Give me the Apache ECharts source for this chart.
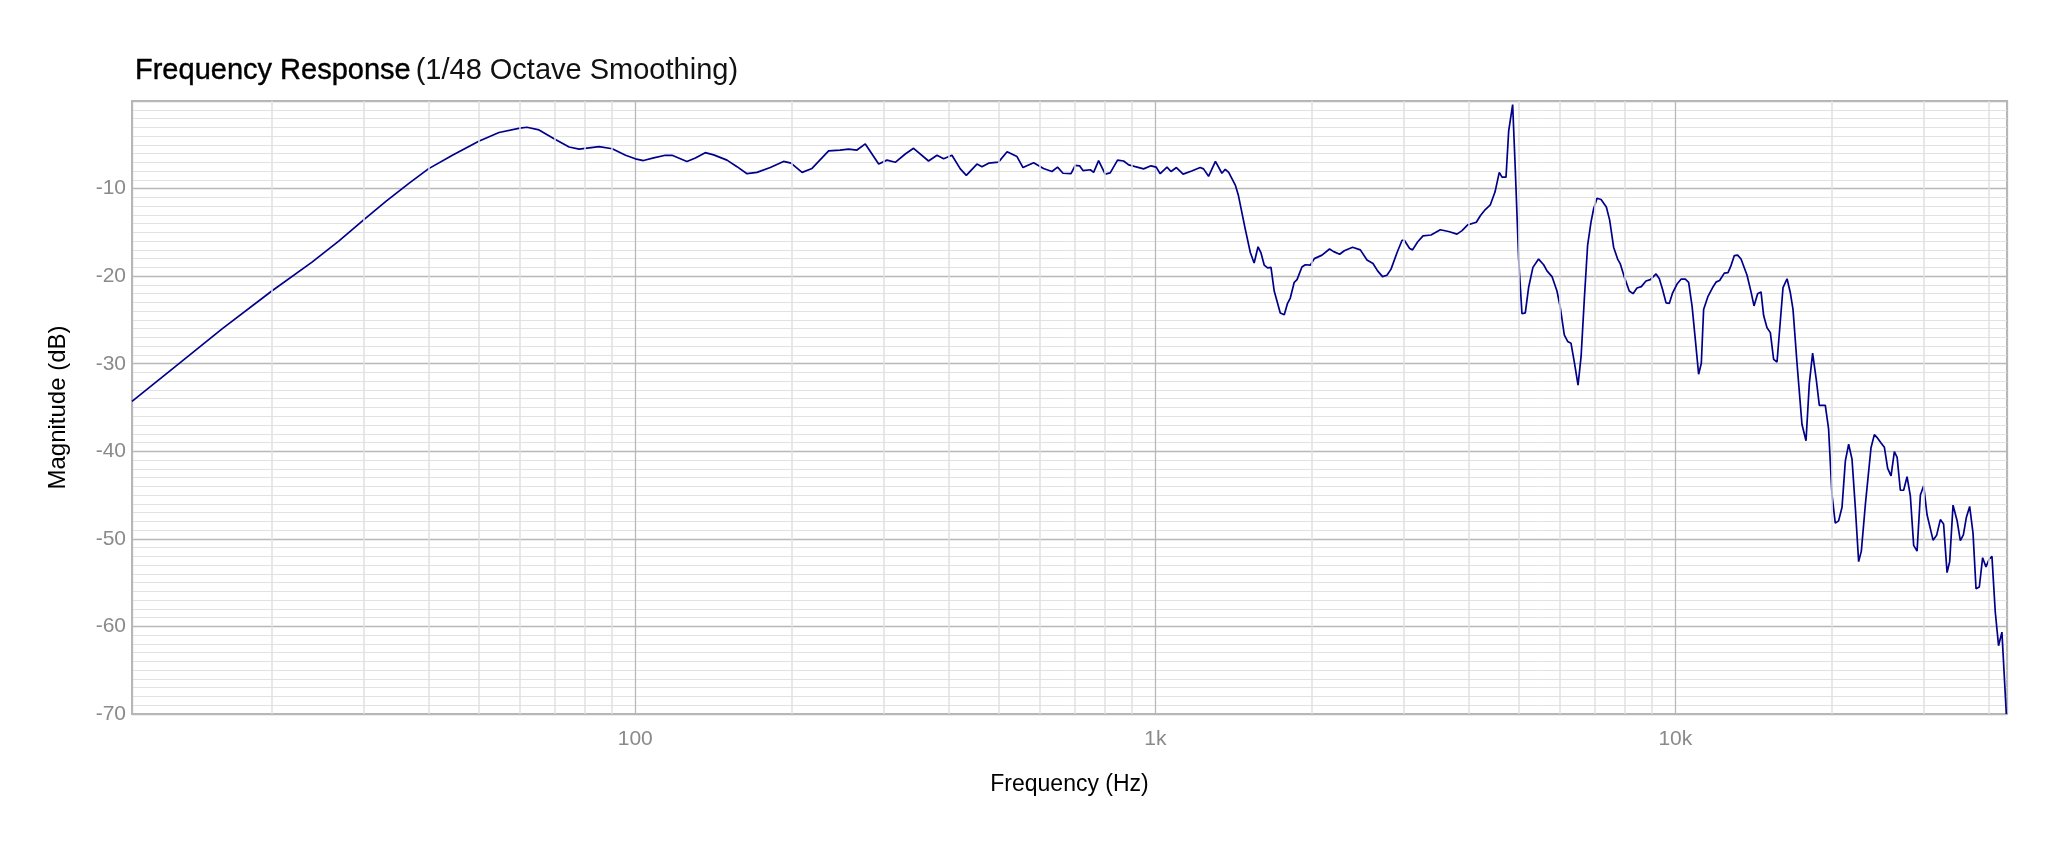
<!DOCTYPE html>
<html>
<head>
<meta charset="utf-8">
<title>Frequency Response</title>
<script src="https://cdn.jsdelivr.net/npm/echarts@6/dist/echarts.min.js"></script>
<style>
  html, body { margin: 0; padding: 0; background: #fff; }
  #chart { width: 2048px; height: 853px; }
</style>
</head>
<body>
<div id="chart"></div>
<script>
// frequency points (Hz)
const freqHz = [
  10.77, 13.06, 16.07, 20, 23.9, 26.9, 30, 33.1, 36.7, 40, 44.5, 50, 54.7, 60, 61.9, 65.3, 69.8, 74.6, 78, 85.2, 90.3, 95.8,
  100, 103.7, 108.5, 114.2, 117.7, 125.7, 130.5, 136.3, 141.5, 150.1, 156.9, 164, 171.4, 181.8, 192.8, 199.3,
  209.3, 218.7, 226.9, 235.4, 247.7, 257, 266.9, 276.9, 293.8, 304.8, 316.2, 330.5, 342.9, 366.4, 380.4, 391.7,
  406.4, 421.7, 433.1, 454, 464.2, 478, 499.4, 518.8, 542, 556.7, 583.4, 609.6, 632.8, 648.6, 664.5, 688.5,
  701.5, 715, 726, 750, 761, 778, 801, 819, 846, 869, 889, 915, 949.5, 981,
  1004, 1022, 1053, 1072, 1098, 1131, 1175, 1220, 1238, 1266, 1305, 1343, 1363, 1384, 1425, 1445, 1489,
  1523, 1549, 1576, 1597, 1620, 1644, 1669, 1693, 1739, 1770, 1796, 1818, 1850, 1873, 1914, 1943, 1986,
  2022, 2092, 2163, 2203, 2262, 2309, 2395, 2479, 2553, 2622, 2676, 2735, 2789, 2840, 2917, 2982,
  3012, 3084, 3124, 3194, 3272, 3390, 3532, 3664, 3803, 3889, 3987, 4143, 4217, 4311, 4408, 4500, 4586,
  4642, 4725, 4781, 4866, 4925, 4997, 5071, 5146, 5222, 5323, 5458, 5582, 5665, 5792, 5921, 6009, 6116,
  6208, 6300, 6401, 6500, 6588, 6683, 6781, 6885, 6965, 7070, 7197, 7368, 7477, 7609, 7745, 7838, 7990,
  8155, 8292, 8439, 8602, 8782, 8951, 9183, 9316, 9454, 9597, 9739, 9881,
  10076, 10256, 10453, 10607, 10768, 10926, 11086, 11220, 11334, 11557, 11795, 11990, 12167, 12422, 12627,
  12796, 12986, 13177, 13376, 13737, 13982, 14167, 14397, 14615, 14785, 15008, 15230, 15453, 15688,
  16110, 16398, 16641, 16838, 17139, 17522, 17836, 18100, 18365, 18668, 18919, 19427, 19711,
  20009, 20304, 20603, 20919, 21230, 21542, 21865, 22190, 22517, 22787, 23195, 23784, 24138, 24491,
  24866, 25236, 25605, 25990, 26376, 26700, 27084, 27480, 27900, 28310, 28730, 29163, 29595,
  30030, 30483, 31305, 31800, 32330, 32800, 33306, 33694, 34200, 34813, 35320, 35800, 36276, 36813,
  37364, 37865, 38418, 38988, 39568, 40148, 40630, 41232, 41835, 42466, 43300
];
// magnitude (dB) for each frequency above
const magDb = [
  -34.3, -30.3, -26.0, -21.7, -18.4, -16.0, -13.6, -11.5, -9.4, -7.75, -6.2, -4.6, -3.6, -3.1, -3.0, -3.3, -4.3, -5.25, -5.5, -5.2, -5.45, -6.2,
  -6.6, -6.8, -6.5, -6.2, -6.2, -6.9, -6.5, -5.9, -6.15, -6.75, -7.5, -8.3, -8.15, -7.6, -6.9, -7.1,
  -8.15, -7.7, -6.7, -5.7, -5.6, -5.5, -5.6, -4.9, -7.2, -6.75, -7.0, -6.05, -5.4, -6.85, -6.2, -6.6,
  -6.2, -7.75, -8.5, -7.2, -7.5, -7.1, -6.98, -5.8, -6.35, -7.6, -7.05, -7.7, -8.05, -7.55, -8.25, -8.3,
  -7.35, -7.4, -7.95, -7.85, -8.15, -6.8, -8.35, -8.2, -6.75, -6.85, -7.3, -7.5, -7.75, -7.4,
  -7.55, -8.3, -7.55, -8.05, -7.6, -8.35, -8.0, -7.6, -7.75, -8.6, -6.9, -8.25, -7.8, -8.15, -9.6, -10.8, -14.6,
  -17.3, -18.5, -16.65, -17.35, -18.75, -19.05, -19.0, -21.7, -24.2, -24.4, -23.1, -22.5, -20.7, -20.4, -18.95, -18.7, -18.75,
  -18.0, -17.6, -16.9, -17.2, -17.5, -17.1, -16.7, -17.0, -18.15, -18.55, -19.4, -20.05, -19.9, -19.2, -17.3, -15.9,
  -15.9, -16.85, -17.0, -16.1, -15.4, -15.3, -14.7, -14.9, -15.2, -14.8, -14.15, -13.85, -13.1, -12.4, -11.85, -10.4, -8.15,
  -8.7, -8.7, -3.45, -0.4, -8.05, -18.05, -24.3, -24.2, -21.3, -19.0, -18.05, -18.7, -19.4, -20.05, -21.7, -23.6, -26.7,
  -27.45, -27.65, -30.0, -32.45, -29.2, -22.65, -16.5, -13.8, -12.3, -11.1, -11.25, -12.1, -13.6, -16.7, -18.05, -18.6, -20.2,
  -21.7, -22.0, -21.35, -21.2, -20.55, -20.4, -19.75, -20.3, -21.55, -23.05, -23.1, -21.9,
  -20.9, -20.35, -20.35, -20.7, -23.4, -27.25, -31.2, -29.95, -23.8, -22.3, -21.3, -20.65, -20.5, -19.65, -19.6,
  -18.8, -17.65, -17.6, -18.05, -19.9, -21.8, -23.4, -22.0, -21.8, -24.5, -25.9, -26.45, -29.5, -29.8,
  -21.3, -20.3, -21.9, -23.8, -29.95, -36.95, -38.8, -32.25, -28.8, -31.85, -34.75, -34.75, -37.45,
  -44.95, -48.2, -47.95, -46.4, -41.1, -39.2, -40.9, -46.45, -52.6, -51.4, -46.1, -39.6, -38.1, -38.5,
  -39.05, -39.55, -41.95, -42.8, -40.05, -40.7, -44.45, -44.45, -42.9, -45.1, -50.75, -51.4, -45.0,
  -43.95, -47.25, -50.15, -49.6, -47.8, -48.3, -53.85, -52.6, -46.15, -47.9, -50.2, -49.55, -47.55, -46.3,
  -49.35, -55.7, -55.5, -52.15, -53.2, -52.3, -52.0, -58.35, -62.2, -60.65, -70
];
// labels for the decade ticks
const xTickLabels = { 100: "100", 1000: "1k", 10000: "10k" };
// minor vertical grid lines, 2..9 within each decade
const minorFreqs = [
  20, 30, 40, 50, 60, 70, 80, 90,
  200, 300, 400, 500, 600, 700, 800, 900,
  2000, 3000, 4000, 5000, 6000, 7000, 8000, 9000,
  20000, 30000, 40000
];

const FONT = "'Liberation Sans', Arial, Helvetica, sans-serif";
const seriesData = freqHz.map((f, i) => [f, magDb[i]]);

const chart = echarts.init(document.getElementById("chart"));
chart.setOption({
  animation: false,
  backgroundColor: "#ffffff",
  title: {
    left: 130,
    top: 51,
    text: "{a|Frequency Response} {b|(1/48 Octave Smoothing)}",
    textStyle: {
      fontWeight: "normal",
      rich: {
        // a thin outline gives the medium weight of the first part
        a: { fontFamily: FONT, fontSize: 29, color: "#000000", fontWeight: "normal", textBorderColor: "#000000", textBorderWidth: 0.4 },
        b: { fontFamily: FONT, fontSize: 29, color: "#111111", fontWeight: "normal" }
      }
    }
  },
  grid: {
    left: 132,
    right: 41,
    top: 101,
    bottom: 139,
    show: true,
    borderColor: "#b5b5b5",
    borderWidth: 2,
    backgroundColor: "transparent"
  },
  xAxis: {
    type: "log",
    logBase: 10,
    min: 10.77,
    max: 43430,
    name: "Frequency (Hz)",
    nameLocation: "middle",
    nameGap: 59,
    nameTextStyle: { fontFamily: FONT, fontSize: 23, color: "#000000" },
    axisLine: { show: false },
    axisTick: { show: false },
    axisLabel: {
      margin: 15,
      fontFamily: FONT,
      fontSize: 21,
      color: "#8a8a8a",
      showMinLabel: false,
      showMaxLabel: false,
      formatter: (v) => xTickLabels[Math.round(v)] || ""
    },
    splitLine: { show: true, lineStyle: { color: "#b8b8b8", width: 1.3 } }
  },
  yAxis: {
    type: "value",
    min: -70,
    max: 0,
    interval: 10,
    name: "Magnitude (dB)",
    nameLocation: "middle",
    nameGap: 62,
    nameTextStyle: { fontFamily: FONT, fontSize: 24, color: "#000000" },
    axisLine: { show: false },
    axisTick: { show: false },
    axisLabel: {
      margin: 6,
      fontFamily: FONT,
      fontSize: 21,
      color: "#8a8a8a",
      formatter: (v) => (v === 0 ? "" : String(v))
    },
    splitLine: { show: true, lineStyle: { color: "#b8b8b8", width: 1.3 } },
    minorTick: { show: false, splitNumber: 10 },
    minorSplitLine: { show: true, lineStyle: { color: "#e2e2e2", width: 1 } }
  },
  series: [
    {
      // minor vertical grid, drawn under the response curve
      type: "line",
      z: 1,
      silent: true,
      symbol: "none",
      data: [],
      markLine: {
        silent: true,
        symbol: ["none", "none"],
        label: { show: false },
        lineStyle: { color: "#e0e0e0", width: 1.5, type: "solid" },
        emphasis: { disabled: true },
        data: minorFreqs.map((f) => ({ xAxis: f }))
      }
    },
    {
      name: "Magnitude",
      type: "line",
      z: 3,
      data: seriesData,
      showSymbol: false,
      symbol: "none",
      smooth: false,
      lineStyle: { color: "#00008b", width: 1.7 }
    }
  ]
});
window.onresize = function () {
  chart.resize();
};
</script>
</body>
</html>
